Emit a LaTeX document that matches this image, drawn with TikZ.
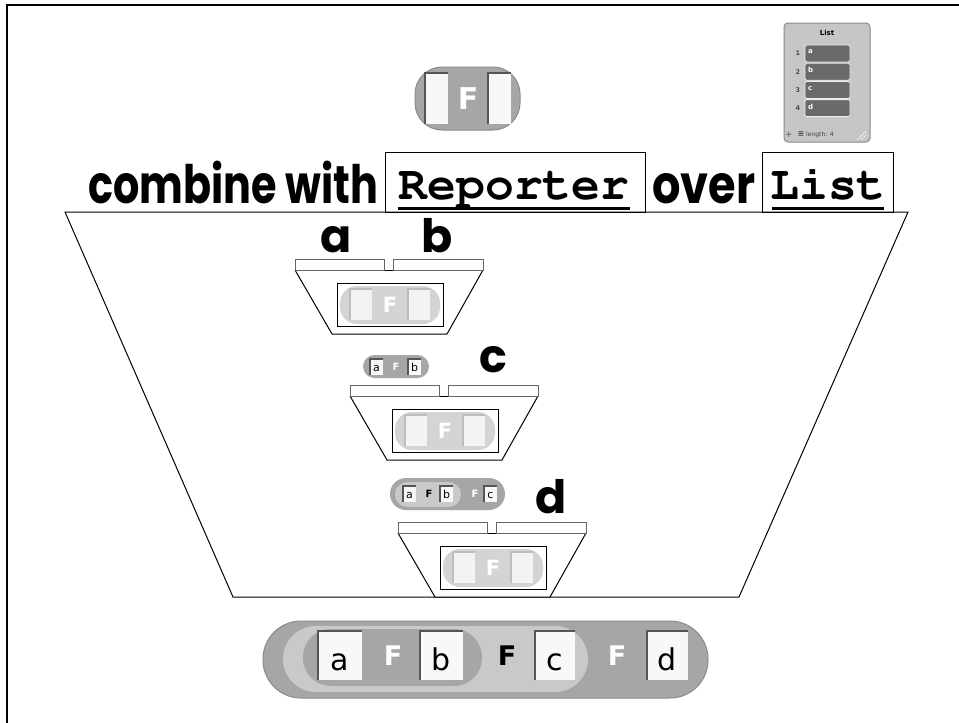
\documentclass[tikz,border=0pt]{standalone}
\usepackage{fontspec}
\newfontfamily\roundfont{Poppins}
\newfontfamily\uifont{DejaVu Sans}
\newcommand{\courbold}{\fontencoding{T1}\fontfamily{pcr}\fontseries{b}\selectfont}
\definecolor{blockgray}{HTML}{A6A6A6}
\definecolor{blockdark}{HTML}{8C8C8C}
\definecolor{blocklight}{HTML}{C9C9C9}
\definecolor{fadegray}{HTML}{D4D4D4}
\definecolor{fadeslot}{HTML}{F3F3F3}
\definecolor{fadeedge}{HTML}{BDBDBD}
\definecolor{slotwhite}{HTML}{F8F8F8}
\definecolor{slotedge}{HTML}{555555}
\definecolor{cellgray}{HTML}{6A6A6A}
\definecolor{watchbg}{HTML}{C6C6C6}
\definecolor{watchedge}{HTML}{8A8A8A}
\newcommand{\myslot}[4]{%
  \fill[slotwhite] (#1,#2) rectangle (#3,#4);
  \draw[slotedge,line width=1.4pt] (#1,#4) -- (#1,#2) -- (#3,#2);}
\newcommand{\fadeslotbox}[4]{%
  \fill[fadeslot] (#1,#2) rectangle (#3,#4);
  \draw[fadeedge,line width=1.2pt] (#1,#4) -- (#1,#2) -- (#3,#2);}
\begin{document}
\begin{tikzpicture}[x=1pt,y=-1pt,
  bigword/.style={font=\roundfont\bfseries\fontsize{53}{55}\selectfont, inner sep=0, anchor=base west},
  letterlbl/.style={font=\roundfont\bfseries\fontsize{46}{48}\selectfont, inner sep=0, anchor=base},
  monoword/.style={font=\courbold\fontsize{48}{48}\selectfont, inner sep=0, anchor=base},
  argbox/.style={draw, line width=1pt, inner sep=0, anchor=north west},
  bar/.style={fill=white, draw=black!60, line width=0.9pt},
  outline/.style={draw=black, line width=1pt},
  slottext/.style={inner sep=0, anchor=base, text=black},
  funnel/.pic={
    \draw[outline, fill=white] (295,270) -- (332,334) -- (447,334) -- (483,270);
    \draw[outline] (295,270) -- (483,270);
    \draw[bar] (295,259) rectangle (384,270);
    \draw[bar] (393,259) rectangle (483,270);
    \draw[outline] (337,283) rectangle (443,326);
    \fill[fadegray, rounded corners=17] (340,286) rectangle (440,324);
    \fadeslotbox{350}{289}{372}{320}
    \fadeslotbox{408}{289}{430}{320}
    \node[font=\uifont\bfseries\fontsize{21}{21}\selectfont, text=white, inner sep=0] at (390,305) {F};
  }]
\useasboundingbox (0,0) rectangle (959,723);
\fill[white] (0,0) rectangle (959,723);

% frame
\draw[line width=2.5pt] (7,723) -- (7,5) -- (959,5);

% top reporter block
\fill[blockgray, rounded corners=27] (415,67) rectangle (520,130);
\draw[blockdark, line width=1pt, rounded corners=27] (415,67) rectangle (520,130);
\myslot{425}{73}{448}{124}
\myslot{488}{73}{511}{124}
\node[font=\uifont\bfseries\fontsize{30}{30}\selectfont, text=white, inner sep=0] (topF) at (468,99) {F};

% list watcher
\fill[watchbg, draw=watchedge, line width=1pt, rounded corners=4] (784,23) rectangle (870,142);
\node[font=\uifont\bfseries\fontsize{7}{7}\selectfont, inner sep=0] (wtitle) at (827,33) {List};
\foreach \i/\t in {1/a,2/b,3/c,4/d}{
  \pgfmathsetmacro{\yy}{45+(\i-1)*18.2}
  \fill[cellgray, draw=white!85!gray, line width=0.8pt, rounded corners=1.5] (805,\yy) rectangle (850,\yy+17);
  \node[font=\uifont\bfseries\fontsize{6.5}{7}\selectfont, text=black!70, inner sep=0] at (798,\yy+8.5) {\i};
  \node[font=\uifont\bfseries\fontsize{7}{7}\selectfont, text=white, inner sep=0, anchor=west] at (808,\yy+7) {\t};
}
\node[font=\uifont\fontsize{9}{9}\selectfont, text=black!65, inner sep=0] (wplus) at (789,135) {+};
\node[font=\uifont\bfseries\fontsize{8}{8}\selectfont, text=black!75, inner sep=0] (wicon) at (801,134.5) {≡};
\node[font=\uifont\fontsize{6}{6}\selectfont, text=black!75, inner sep=0, anchor=west] (wlen) at (806,135) {length: 4};
\draw[white!90!gray, line width=0.7pt] (857,140) -- (866,131) (861,140) -- (867,134);

% title line
\node[bigword] (combine) at (88,203) {\resizebox{290pt}{\height}{combine with}};
\node[argbox, minimum width=260, minimum height=60] (repbox) at (385,152) {};
\node[monoword] (rep) at (514,199) {Reporter};
\draw[line width=3pt] (398,208) -- (630,208);
\node[bigword] (over) at (652,203) {\resizebox{103pt}{\height}{over}};
\node[argbox, minimum width=131, minimum height=60] (listbox) at (762,152) {};
\node[monoword] (lst) at (828,199) {List};
\draw[line width=3pt] (772,208) -- (884,208);

% big funnel
\draw[outline] (65,212) -- (233,597) -- (739,597) -- (908,212) -- cycle;

% stage 1
\node[letterlbl] (la) at (336,252) {a};
\node[letterlbl] (lb) at (437,252) {b};
\pic at (0,0) {funnel};

% stage 2
\fill[blockgray, rounded corners=11.5] (363,355) rectangle (429,378);
\myslot{370}{359}{383}{375}
\myslot{408}{359}{421}{375}
\node[slottext, font=\uifont\fontsize{11}{11}\selectfont] (s2a) at (376.5,371) {a};
\node[slottext, font=\uifont\fontsize{11}{11}\selectfont] (s2b) at (414.5,371) {b};
\node[font=\uifont\bfseries\fontsize{10}{10}\selectfont, text=white, inner sep=0] (s2F) at (396,367) {F};
\node[letterlbl] (lc) at (493,372) {c};
\pic at (55,126) {funnel};

% stage 3
\fill[blockgray, rounded corners=16] (390,478) rectangle (505,510);
\fill[blocklight, rounded corners=12.5] (395,482) rectangle (461,507);
\myslot{403}{486}{416}{502}
\myslot{440}{486}{453}{502}
\myslot{484}{486}{497}{502}
\node[slottext, font=\uifont\fontsize{11}{11}\selectfont] (s3a) at (409.5,498) {a};
\node[slottext, font=\uifont\fontsize{11}{11}\selectfont] (s3b) at (446.5,498) {b};
\node[slottext, font=\uifont\fontsize{11}{11}\selectfont] (s3c) at (490.5,498) {c};
\node[font=\uifont\bfseries\fontsize{10}{10}\selectfont, text=black, inner sep=0] (s3F1) at (429,494) {F};
\node[font=\uifont\bfseries\fontsize{10}{10}\selectfont, text=white, inner sep=0] (s3F2) at (475,494) {F};
\node[letterlbl] (ld) at (551,513) {d};
\pic at (103,263) {funnel};

% result block
\fill[blockgray, rounded corners=38] (263,621) rectangle (708,698);
\draw[blockdark, line width=1pt, rounded corners=38] (263,621) rectangle (708,698);
\fill[blocklight, rounded corners=33] (283,626) rectangle (588,692);
\fill[blockgray, rounded corners=28] (303,629) rectangle (482,686);
\myslot{318}{631}{362}{680}
\myslot{420}{631}{463}{680}
\myslot{535}{631}{575}{680}
\myslot{647}{631}{688}{680}
\node[slottext, font=\uifont\fontsize{30}{30}\selectfont] (ra) at (340,670) {a};
\node[slottext, font=\uifont\fontsize{30}{30}\selectfont] (rb) at (441.5,670) {b};
\node[slottext, font=\uifont\fontsize{30}{30}\selectfont] (rc) at (555,670) {c};
\node[slottext, font=\uifont\fontsize{30}{30}\selectfont] (rd) at (667.5,670) {d};
\node[font=\uifont\bfseries\fontsize{27}{27}\selectfont, text=white, inner sep=0] (rF1) at (393,656) {F};
\node[font=\uifont\bfseries\fontsize{27}{27}\selectfont, text=black, inner sep=0] (rF2) at (507,656) {F};
\node[font=\uifont\bfseries\fontsize{27}{27}\selectfont, text=white, inner sep=0] (rF3) at (617,656) {F};
\end{tikzpicture}
\end{document}
